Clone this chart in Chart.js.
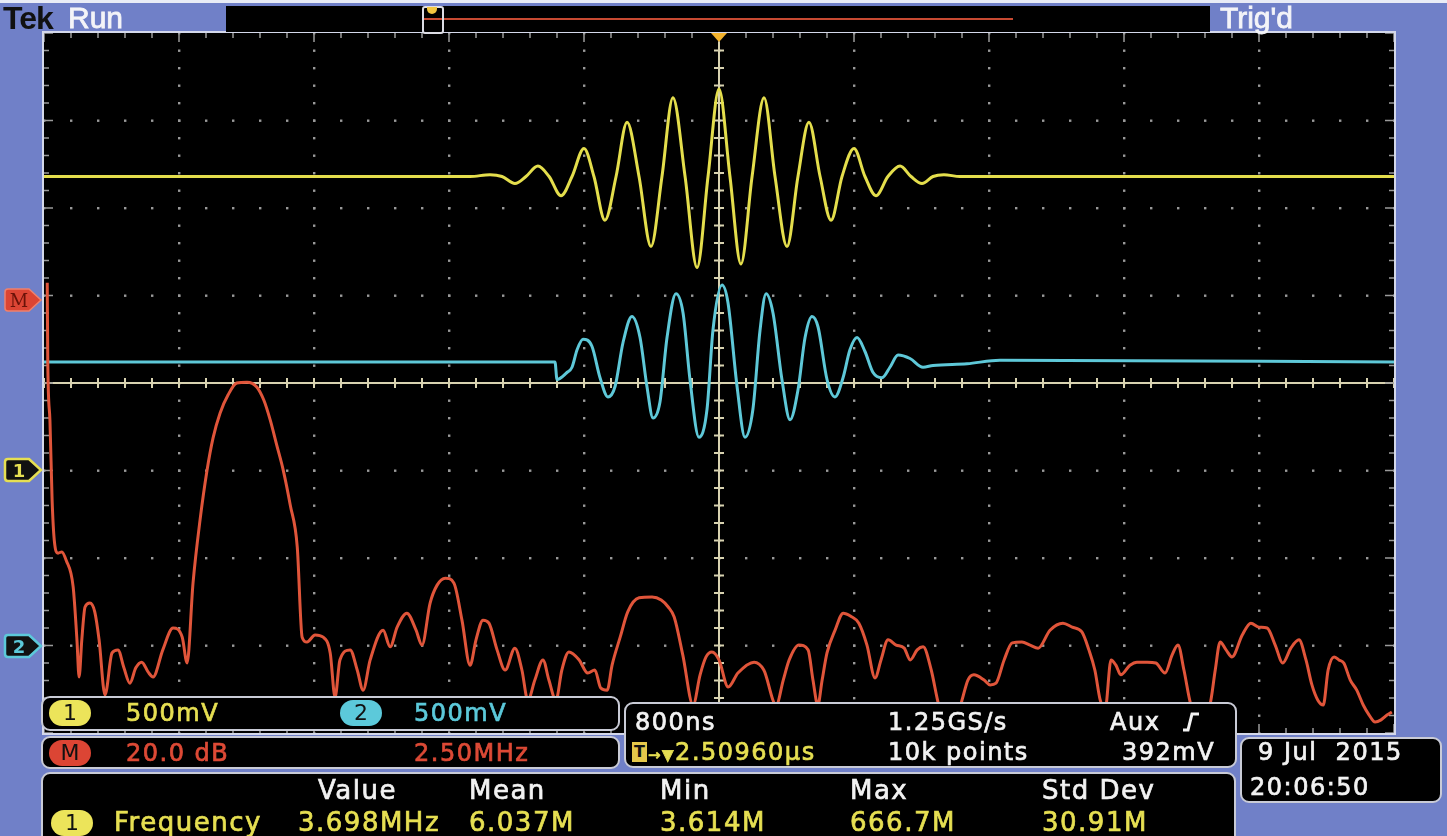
<!DOCTYPE html>
<html lang="en">
<head>
<meta charset="UTF-8">
<title>Tek scope capture</title>
<script src="https://cdn.jsdelivr.net/npm/chart.js@4"></script>
<style>
  html, body { margin: 0; padding: 0; width: 1447px; height: 836px; overflow: hidden; background: #7080c8; }
  #wrap { position: relative; width: 1447px; height: 836px; font-family: "DejaVu Sans", sans-serif; }
  #scope { position: absolute; left: 0; top: 0; }
  .abs { position: absolute; }
  .t { position: absolute; font-size: 24px; letter-spacing: 1.5px; line-height: 28px; white-space: pre;
       -webkit-text-stroke: 0.7px currentColor; }
  .big { font-size: 26px; }
  .yel { color: #e6df52; } .cya { color: #5cc9da; } .red { color: #dd4a36; } .wht { color: #f2f2f2; }
  .panel { position: absolute; box-sizing: border-box; background: #000; border: 2px solid #c9cbd6; border-radius: 9px; }
  .badge { position: absolute; box-sizing: border-box; width: 42px; height: 26px; border-radius: 13px; color: #111;
           font: 22px/26px "DejaVu Sans", sans-serif; text-align: center; }
</style>
</head>
<body>
<div id="wrap">
  <canvas id="scope" width="1447" height="836"></canvas>

  <!-- top status bar -->
  <div class="abs" style="left:0;top:0;width:1447px;height:3px;background:#e9ecf6"></div>
  <div class="abs" style="left:3px;top:1px;font:bold 32px/34px 'Liberation Sans',sans-serif;letter-spacing:-1px;color:#111">Tek</div>
  <div class="abs" style="left:68px;top:1px;font:30px/34px 'Liberation Sans',sans-serif;color:#f4f4f8;-webkit-text-stroke:0.8px #f4f4f8">Run</div>
  <div class="abs" style="left:226px;top:6px;width:984px;height:26px;background:#000"></div>
  <div class="abs" style="left:423px;top:18px;width:590px;height:2px;background:#c84a32"></div>
  <div class="abs" style="left:422px;top:6px;width:18px;height:24px;border:2px solid #dcdce4;border-radius:3px"></div>
  <div class="abs" style="left:427px;top:7px;width:10px;height:7px;background:#f2c640;border-radius:0 0 5px 5px"></div>
  <div class="abs" style="left:1220px;top:1px;font:30px/34px 'Liberation Sans',sans-serif;color:#f4f4f8;-webkit-text-stroke:0.8px #f4f4f8">Trig'd</div>

  <!-- left reference markers -->
  <svg class="abs" style="left:3px;top:287px" width="40" height="26" viewBox="0 0 40 26">
    <path d="M5 2 H26 L38 13 L26 24 H5 Q2 24 2 21 V5 Q2 2 5 2Z" fill="#dc4534" stroke="#f0806c" stroke-width="1.5"/>
    <text x="16" y="20" text-anchor="middle" font-family="DejaVu Serif" font-size="18" fill="#6a1208">M</text>
  </svg>
  <svg class="abs" style="left:3px;top:457px" width="40" height="26" viewBox="0 0 40 26">
    <path d="M5 2 H26 L38 13 L26 24 H5 Q2 24 2 21 V5 Q2 2 5 2Z" fill="#111" stroke="#e6df52" stroke-width="2.5"/>
    <text x="16" y="20" text-anchor="middle" font-family="DejaVu Sans" font-weight="bold" font-size="18" fill="#e6df52">1</text>
  </svg>
  <svg class="abs" style="left:3px;top:633px" width="40" height="26" viewBox="0 0 40 26">
    <path d="M5 2 H26 L38 13 L26 24 H5 Q2 24 2 21 V5 Q2 2 5 2Z" fill="#111" stroke="#5cc9da" stroke-width="2.5"/>
    <text x="16" y="20" text-anchor="middle" font-family="DejaVu Sans" font-weight="bold" font-size="18" fill="#5cc9da">2</text>
  </svg>

  <!-- bottom readouts -->
  <div class="panel" style="left:41px;top:696px;width:579px;height:35px"></div>
  <div class="panel" style="left:41px;top:736px;width:579px;height:33px"></div>
  <div class="panel" style="left:624px;top:702px;width:613px;height:66px"></div>
  <div class="panel" style="left:41px;top:772px;width:1195px;height:74px"></div>
  <div class="panel" style="left:1240px;top:737px;width:202px;height:66px"></div>

  <div class="badge" style="left:49px;top:700px;background:#ece45a">1</div>
  <div class="t yel" style="left:126px;top:699px">500mV</div>
  <div class="badge" style="left:340px;top:700px;background:#5cc9da">2</div>
  <div class="t cya" style="left:414px;top:699px">500mV</div>

  <div class="badge" style="left:49px;top:740px;background:#dc4534">M</div>
  <div class="t red" style="left:126px;top:739px">20.0 dB</div>
  <div class="t red" style="left:414px;top:739px">2.50MHz</div>

  <div class="t wht" style="left:635px;top:708px">800ns</div>
  <div class="t wht" style="left:888px;top:708px">1.25GS/s</div>
  <div class="t wht" style="left:1110px;top:708px">Aux</div>
  <svg class="abs" style="left:1180px;top:710px" width="22" height="24" viewBox="0 0 22 24">
    <path d="M3 20 H8 L12 4 H19" fill="none" stroke="#f2f2f2" stroke-width="3"/>
  </svg>
  <div class="abs" style="left:632px;top:742px;width:15px;height:20px;background:#e6c84a;color:#111;font:bold 16px/20px 'DejaVu Sans';text-align:center">T</div>
  <div class="t yel" style="left:648px;top:738px"><span style="font-size:15px">→▼</span>2.50960µs</div>
  <div class="t wht" style="left:888px;top:738px">10k points</div>
  <div class="t wht" style="left:1122px;top:738px">392mV</div>

  <div class="t wht big" style="left:318px;top:776px">Value</div>
  <div class="t wht big" style="left:469px;top:776px">Mean</div>
  <div class="t wht big" style="left:660px;top:776px">Min</div>
  <div class="t wht big" style="left:850px;top:776px">Max</div>
  <div class="t wht big" style="left:1042px;top:776px">Std Dev</div>
  <div class="badge" style="left:51px;top:810px;background:#ece45a">1</div>
  <div class="t yel big" style="left:114px;top:808px">Frequency</div>
  <div class="t yel big" style="left:298px;top:808px">3.698MHz</div>
  <div class="t yel big" style="left:469px;top:808px">6.037M</div>
  <div class="t yel big" style="left:660px;top:808px">3.614M</div>
  <div class="t yel big" style="left:850px;top:808px">666.7M</div>
  <div class="t yel big" style="left:1042px;top:808px">30.91M</div>

  <div class="t wht" style="left:1258px;top:738px">9 Jul  2015</div>
  <div class="t wht" style="left:1250px;top:773px">20:06:50</div>
</div>

<script>
// Channel 1 (yellow), time from screen centre in µs, level in volts
const ch1TimeUs = [-4.000, -1.476, -1.357, -1.286, -1.209, -1.144, -1.073, -1.007, -0.936, -0.871, -0.800,
  -0.741, -0.676, -0.610, -0.545, -0.474, -0.403, -0.338, -0.273, -0.201, -0.130, -0.065, 0.000,
  0.065, 0.130, 0.196, 0.267, 0.332, 0.403, 0.468, 0.533, 0.599, 0.664, 0.729, 0.800, 0.865,
  0.930, 1.001, 1.073, 1.138, 1.203, 1.268, 1.333, 1.428, 4.000];
const ch1Volts = [1.68, 1.68, 1.69, 1.68, 1.64, 1.68, 1.74, 1.68, 1.57, 1.68, 1.84,
  1.68, 1.43, 1.68, 1.99, 1.68, 1.28, 1.68, 2.13, 1.68, 1.16, 1.68, 2.18,
  1.68, 1.18, 1.68, 2.13, 1.68, 1.28, 1.68, 1.99, 1.68, 1.43, 1.68, 1.84, 1.68,
  1.57, 1.68, 1.74, 1.68, 1.64, 1.68, 1.69, 1.68, 1.68];

// Channel 2 (cyan)
const ch2TimeUs = [-4.000, -0.972, -0.960, -0.901, -0.871, -0.841, -0.806, -0.753, -0.705, -0.658, -0.616,
  -0.569, -0.516, -0.468, -0.427, -0.391, -0.350, -0.308, -0.255, -0.213, -0.172, -0.119, -0.071,
  -0.036, 0.018, 0.053, 0.107, 0.154, 0.201, 0.243, 0.279, 0.320, 0.373, 0.421, 0.468, 0.510,
  0.551, 0.587, 0.640, 0.687, 0.735, 0.776, 0.818, 0.865, 0.913, 0.966, 1.013, 1.061, 1.132,
  1.209, 1.268, 1.470, 1.665, 4.000];
const ch2Volts = [1.62, 1.62, 1.52, 1.56, 1.59, 1.69, 1.75, 1.71, 1.53, 1.42, 1.48,
  1.73, 1.88, 1.76, 1.48, 1.30, 1.39, 1.76, 2.01, 1.90, 1.52, 1.19, 1.35,
  1.80, 2.06, 1.96, 1.48, 1.19, 1.35, 1.80, 2.01, 1.90, 1.52, 1.29, 1.46, 1.76,
  1.88, 1.82, 1.52, 1.42, 1.53, 1.69, 1.76, 1.68, 1.56, 1.53, 1.59, 1.66, 1.64,
  1.59, 1.60, 1.61, 1.63, 1.62];

// Math M: FFT of channel 1, 2.5 MHz/div, 20 dB/div
const fftFreqMHz = [0.06, 0.07, 0.11, 0.15, 0.19, 0.26, 0.33, 0.41, 0.54, 0.61, 0.65, 0.70, 0.76, 0.85, 0.94,
  1.02, 1.13, 1.26, 1.37, 1.48, 1.59, 1.70, 1.81, 1.93, 2.02, 2.20, 2.39, 2.56, 2.65, 2.76, 2.89,
  3.02, 3.13, 3.26, 3.41, 3.57, 3.76, 3.94, 4.07, 4.19, 4.31, 4.43, 4.56, 4.69, 4.78, 4.87,
  5.02, 5.17, 5.30, 5.39, 5.48, 5.67, 5.80, 5.91, 6.04, 6.28, 6.41, 6.54, 6.72, 6.89, 7.00,
  7.15, 7.28, 7.43, 7.59, 7.74, 7.89, 8.00, 8.13, 8.24, 8.39, 8.54, 8.72, 8.85, 8.96, 9.09,
  9.24, 9.35, 9.48, 9.59, 9.72, 9.91, 10.07, 10.20, 10.31, 10.43, 10.52, 10.67, 10.81, 11.02,
  11.26, 11.43, 11.56, 11.67, 11.83, 12.02, 12.15, 12.26, 12.37, 12.50, 12.67, 12.85, 13.15,
  13.33, 13.56, 13.69, 13.80, 13.98, 14.15, 14.24, 14.33, 14.41, 14.50, 14.65, 14.80, 14.94,
  15.09, 15.24, 15.39, 15.50, 15.63, 15.78, 15.93, 16.04, 16.17, 16.28, 16.43, 16.57, 16.70,
  16.87, 17.00, 17.11, 17.22, 17.41, 17.52, 17.63, 17.78, 17.93, 18.11, 18.26, 18.41, 18.63,
  18.87, 19.04, 19.22, 19.35, 19.46, 19.56, 19.65, 19.76, 19.85, 19.94, 20.11, 20.24, 20.43,
  20.59, 20.76, 20.89, 21.00, 21.11, 21.24, 21.41, 21.59, 21.69, 21.78, 21.89, 22.00, 22.19,
  22.35, 22.50, 22.65, 22.80, 22.94, 23.09, 23.24, 23.37, 23.48, 23.59, 23.69, 23.78, 23.89,
  23.98, 24.07, 24.19, 24.31, 24.43, 24.54, 24.65, 24.76, 24.87, 24.96];
const fftLevelDb = [2.9, -15.4, -28.5, -46.7, -55.9, -58.9, -58.6, -60.5, -66.6, -78.7, -87.2, -78.7, -71.2, -70.3, -72.3,
  -78.7, -91.3, -81.7, -81.0, -85.1, -88.6, -85.1, -83.8, -86.1, -87.2, -81.0, -76.0, -78.1, -84.0, -65.7, -51.3,
  -39.9, -32.6, -26.9, -22.7, -20.0, -19.8, -20.9, -23.9, -28.5, -34.2, -39.9, -47.9, -57.5, -78.1, -79.2,
  -77.6, -78.1, -81.7, -91.8, -83.3, -81.0, -85.6, -90.2, -83.3, -76.5, -80.3, -75.8, -72.6, -76.5, -79.9,
  -70.3, -66.2, -64.6, -65.7, -74.2, -84.5, -78.7, -74.2, -74.9, -81.0, -85.6, -80.6, -85.6, -92.5, -87.9,
  -83.3, -87.9, -92.5, -85.6, -81.5, -83.3, -86.3, -85.6, -89.7, -90.2, -84.5, -78.1, -72.3, -69.1,
  -68.9, -69.6, -71.2, -73.5, -82.2, -93.6, -86.7, -82.6, -81.5, -83.3, -89.5, -86.3, -83.8,
  -85.6, -93.6, -87.9, -83.3, -79.9, -81.0, -87.9, -93.6, -87.9, -81.7, -76.5, -72.6, -73.3,
  -74.9, -79.9, -87.4, -83.3, -78.7, -79.9, -80.6, -83.3, -81.0, -80.3, -85.6, -93.6, -97.0,
  -98.2, -92.5, -87.9, -86.7, -87.9, -89.0, -88.6, -83.3, -79.4, -79.2, -79.9, -80.6, -76.5,
  -74.9, -75.8, -76.9, -81.0, -85.6, -92.5, -94.7, -83.3, -84.5, -86.7, -84.5, -83.8, -83.8,
  -84.0, -86.3, -82.2, -79.9, -85.6, -93.6, -95.9, -93.6, -85.6, -79.2, -81.0, -82.6, -77.6,
  -74.9, -75.8, -76.0, -79.9, -84.0, -80.6, -78.7, -83.3, -89.0, -92.5, -93.6, -85.6, -82.6,
  -83.3, -84.0, -87.9, -90.2, -93.6, -95.9, -97.5, -97.0, -95.9, -95.2];

const pts = (xs, ys) => xs.map((x, i) => ({ x: x, y: ys[i] }));

// graticule: 10 x 8 divisions, 5 minor steps per division
const graticule = {
  id: 'graticule',
  beforeDatasetsDraw(chart) {
    const { ctx, chartArea: a, scales } = chart;
    const sx = scales.x, sy = scales.y1;
    const xAt = d => sx.getPixelForValue(sx.min + d * 0.8);
    const yAt = d => sy.getPixelForValue(sy.min + d * 0.5);
    ctx.save();
    ctx.fillStyle = '#000';
    ctx.fillRect(a.left, a.top, a.right - a.left, a.bottom - a.top);

    ctx.fillStyle = '#9a9a9a';
    for (let i = 1; i < 10; i++) {
      for (let j = 0; j <= 40; j++) ctx.fillRect(xAt(i) - 1, yAt(j / 5) - 1, 2.4, 2.4);
    }
    for (let j = 1; j < 8; j++) {
      for (let i = 0; i <= 50; i++) ctx.fillRect(xAt(i / 5) - 1, yAt(j) - 1, 2.4, 2.4);
    }

    // centre crosshair with minor ticks
    const cx = xAt(5), cy = yAt(4);
    ctx.strokeStyle = '#d8d2b0';
    ctx.lineWidth = 2;
    ctx.beginPath();
    ctx.moveTo(cx, a.top); ctx.lineTo(cx, a.bottom);
    ctx.moveTo(a.left, cy); ctx.lineTo(a.right, cy);
    for (let j = 0; j <= 40; j++) { const y = yAt(j / 5); ctx.moveTo(cx - 5, y); ctx.lineTo(cx + 5, y); }
    for (let i = 0; i <= 50; i++) { const x = xAt(i / 5); ctx.moveTo(x, cy - 5); ctx.lineTo(x, cy + 5); }
    ctx.stroke();

    // frame ticks
    ctx.strokeStyle = '#9a9a9a';
    ctx.lineWidth = 1.5;
    ctx.beginPath();
    for (let i = 0; i <= 50; i++) {
      const x = xAt(i / 5), len = i % 5 === 0 ? 9 : 5;
      ctx.moveTo(x, a.top); ctx.lineTo(x, a.top + len);
      ctx.moveTo(x, a.bottom); ctx.lineTo(x, a.bottom - len);
    }
    for (let j = 0; j <= 40; j++) {
      const y = yAt(j / 5), len = j % 5 === 0 ? 9 : 5;
      ctx.moveTo(a.left, y); ctx.lineTo(a.left + len, y);
      ctx.moveTo(a.right, y); ctx.lineTo(a.right - len, y);
    }
    ctx.stroke();

    ctx.strokeStyle = '#d4d8ea';
    ctx.lineWidth = 2;
    ctx.strokeRect(a.left - 1, a.top - 1, a.right - a.left + 2, a.bottom - a.top + 2);
    ctx.restore();
  },
  afterDatasetsDraw(chart) {
    const { ctx, chartArea: a, scales } = chart;
    const tx = scales.x.getPixelForValue(0);
    ctx.save();
    ctx.fillStyle = '#f2b22c';
    ctx.beginPath();
    ctx.moveTo(tx - 8, a.top); ctx.lineTo(tx + 8, a.top); ctx.lineTo(tx, a.top + 9);
    ctx.closePath();
    ctx.fill();
    ctx.restore();
  }
};

const trace = (data, color, xAxisID, yAxisID) => ({
  data, xAxisID, yAxisID,
  borderColor: color, borderWidth: 3,
  pointRadius: 0, fill: false,
  cubicInterpolationMode: 'monotone'
});

new Chart(document.getElementById('scope'), {
  type: 'line',
  data: {
    datasets: [
      trace(pts(fftFreqMHz, fftLevelDb), '#e0553a', 'xf', 'yf'),
      trace(pts(ch2TimeUs, ch2Volts), '#5ec8d8', 'x', 'y2'),
      trace(pts(ch1TimeUs, ch1Volts), '#e4de4c', 'x', 'y1')
    ]
  },
  options: {
    responsive: false,
    animation: false,
    devicePixelRatio: 1,
    events: [],
    layout: { padding: { left: 44, top: 33, right: 53, bottom: 103 } },
    plugins: { legend: { display: false }, tooltip: { enabled: false } },
    scales: {
      x:  { type: 'linear', display: false, min: -4, max: 4 },
      y1: { type: 'linear', display: false, min: -1.5, max: 2.5 },
      y2: { type: 'linear', display: false, min: -0.5, max: 3.5 },
      xf: { type: 'linear', display: false, min: 0, max: 25 },
      yf: { type: 'linear', display: false, min: -100, max: 60 }
    }
  },
  plugins: [graticule]
});
</script>
</body>
</html>
